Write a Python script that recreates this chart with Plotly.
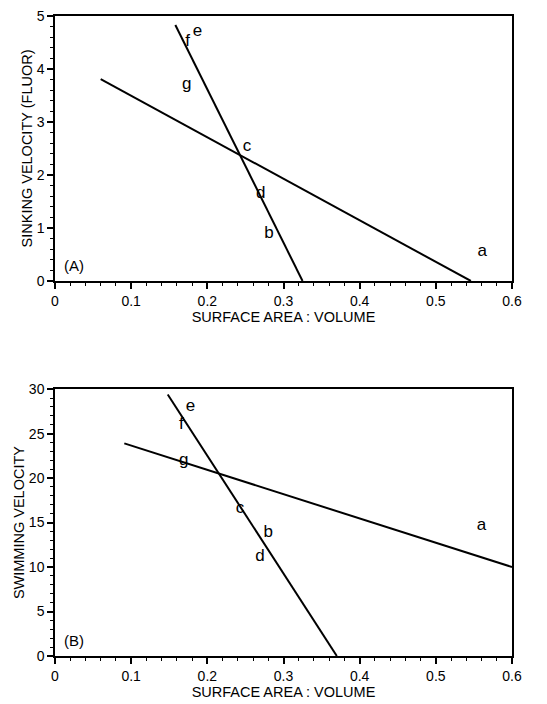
import plotly.graph_objects as go
from plotly.subplots import make_subplots

# Panel A: sinking velocity (fluor) vs surface area : volume
a_line1_x = [0.158, 0.325]
a_line1_y = [4.83, 0.0]
a_line2_x = [0.060, 0.546]
a_line2_y = [3.81, 0.0]
a_labels = ["e", "f", "g", "c", "d", "b", "a"]
a_lab_x = [0.187, 0.174, 0.173, 0.252, 0.270, 0.281, 0.561]
a_lab_y = [4.70, 4.52, 3.70, 2.53, 1.64, 0.89, 0.55]

# Panel B: swimming velocity vs surface area : volume
b_line1_x = [0.148, 0.370]
b_line1_y = [29.4, 0.0]
b_line2_x = [0.091, 0.600]
b_line2_y = [23.9, 10.0]
b_labels = ["e", "f", "g", "c", "b", "d", "a"]
b_lab_x = [0.178, 0.166, 0.169, 0.243, 0.280, 0.269, 0.560]
b_lab_y = [28.0, 26.0, 21.9, 16.5, 13.8, 11.2, 14.6]

x_ticks = [0, 0.1, 0.2, 0.3, 0.4, 0.5, 0.6]
x_ticktext = ["0", "0.1", "0.2", "0.3", "0.4", "0.5", "0.6"]

FONT = "Liberation Sans, Arial, sans-serif"

fig = make_subplots(rows=2, cols=1, vertical_spacing=0.0)
line_style = dict(color="black", width=2)
lab_font = dict(family=FONT, size=17, color="black")

fig.add_trace(go.Scatter(x=a_line1_x, y=a_line1_y, mode="lines", line=line_style, showlegend=False), row=1, col=1)
fig.add_trace(go.Scatter(x=a_line2_x, y=a_line2_y, mode="lines", line=line_style, showlegend=False), row=1, col=1)
fig.add_trace(go.Scatter(x=a_lab_x, y=a_lab_y, mode="text", text=a_labels, textfont=lab_font, showlegend=False), row=1, col=1)

fig.add_trace(go.Scatter(x=b_line1_x, y=b_line1_y, mode="lines", line=line_style, showlegend=False), row=2, col=1)
fig.add_trace(go.Scatter(x=b_line2_x, y=b_line2_y, mode="lines", line=line_style, showlegend=False), row=2, col=1)
fig.add_trace(go.Scatter(x=b_lab_x, y=b_lab_y, mode="text", text=b_labels, textfont=lab_font, showlegend=False), row=2, col=1)

axis_common = dict(showgrid=False, zeroline=False, showline=True, linecolor="black", linewidth=1.5,
                   mirror=True, ticks="outside", ticklen=6, tickwidth=1.5, tickcolor="black",
                   automargin=False, ticklabeloverflow="allow",
                   tickfont=dict(family=FONT, size=14, color="black"))
title_font = dict(family=FONT, size=14.5, color="black")

fig.update_xaxes(**axis_common, range=[0, 0.6], tickmode="array", tickvals=x_ticks, ticktext=x_ticktext,
                 minor=dict(ticks="outside", ticklen=3, dtick=0.02, tickcolor="black", tickwidth=1),
                 title=dict(text="SURFACE AREA : VOLUME", font=title_font, standoff=4))
fig.update_yaxes(**axis_common)
fig.update_yaxes(range=[0, 5], dtick=1, minor=dict(ticks="outside", ticklen=3, dtick=0.2, tickcolor="black", tickwidth=1),
                 title=dict(text="SINKING VELOCITY (FLUOR)", font=title_font, standoff=1), row=1, col=1)
fig.update_yaxes(range=[0, 30], dtick=5, minor=dict(ticks="outside", ticklen=3, dtick=1, tickcolor="black", tickwidth=1),
                 title=dict(text="SWIMMING VELOCITY", font=title_font, standoff=1), row=2, col=1)

fig.update_layout(
    width=547, height=704,
    margin=dict(l=47, r=43, t=8, b=56),
    plot_bgcolor="white", paper_bgcolor="white",
    font=dict(family=FONT, color="black"),
    yaxis=dict(domain=[0.586, 1.0]),
    yaxis2=dict(domain=[0.0, 0.417]),
    annotations=[
        dict(text="(A)", x=0.015, y=0.02, xref="x domain", yref="y domain", xanchor="left", yanchor="bottom",
             showarrow=False, font=dict(family=FONT, size=15, color="black")),
        dict(text="(B)", x=0.015, y=0.02, xref="x2 domain", yref="y2 domain", xanchor="left", yanchor="bottom",
             showarrow=False, font=dict(family=FONT, size=15, color="black")),
    ],
)

fig.write_html("out.html")
